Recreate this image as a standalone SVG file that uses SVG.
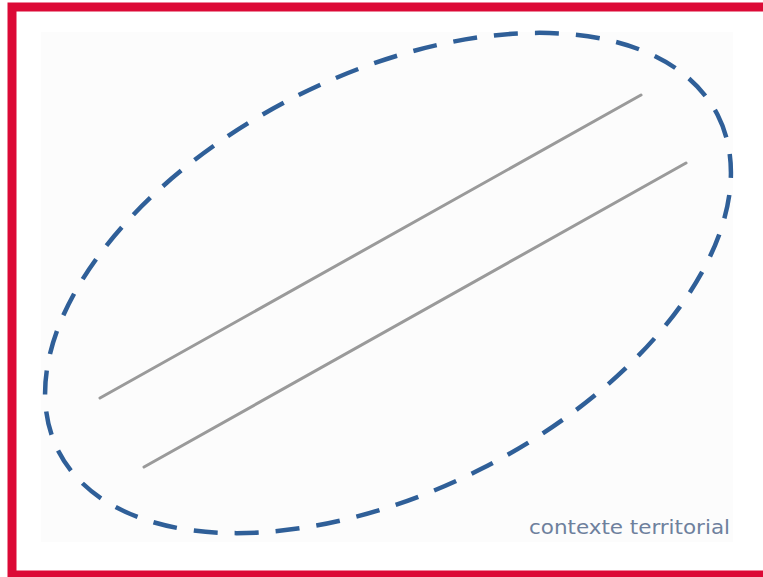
<svg xmlns="http://www.w3.org/2000/svg" width="763" height="577" viewBox="0 0 763 577">
<style>
.frame{fill:#ffffff;stroke:#dc0a36;stroke-width:9}
.panel{fill:#fcfcfc;stroke:none}
.zone{fill:none;stroke:#2f5f98;stroke-width:4.5;stroke-dasharray:24 17;stroke-linecap:butt}
.road{stroke:#9a9a9a;stroke-width:3;stroke-linecap:round}
.label{font-family:"DejaVu Sans Condensed","DejaVu Sans",sans-serif;font-size:19px;fill:#6e809d}
</style>
<rect class="frame" x="12" y="7" width="800" height="568"/>
<rect class="panel" x="41" y="32" width="692" height="510"/>
<g id="zone">
<ellipse class="zone" cx="388" cy="283" rx="370" ry="208" transform="rotate(-27 388 283)"/>
</g>
<g id="connectors">
<line class="road" x1="100" y1="398" x2="641" y2="95"/>
<line class="road" x1="144" y1="467" x2="686" y2="163"/>
</g>
<g id="label">
<text class="label" x="529" y="534" textLength="201" lengthAdjust="spacingAndGlyphs">contexte territorial</text>
</g>
</svg>
